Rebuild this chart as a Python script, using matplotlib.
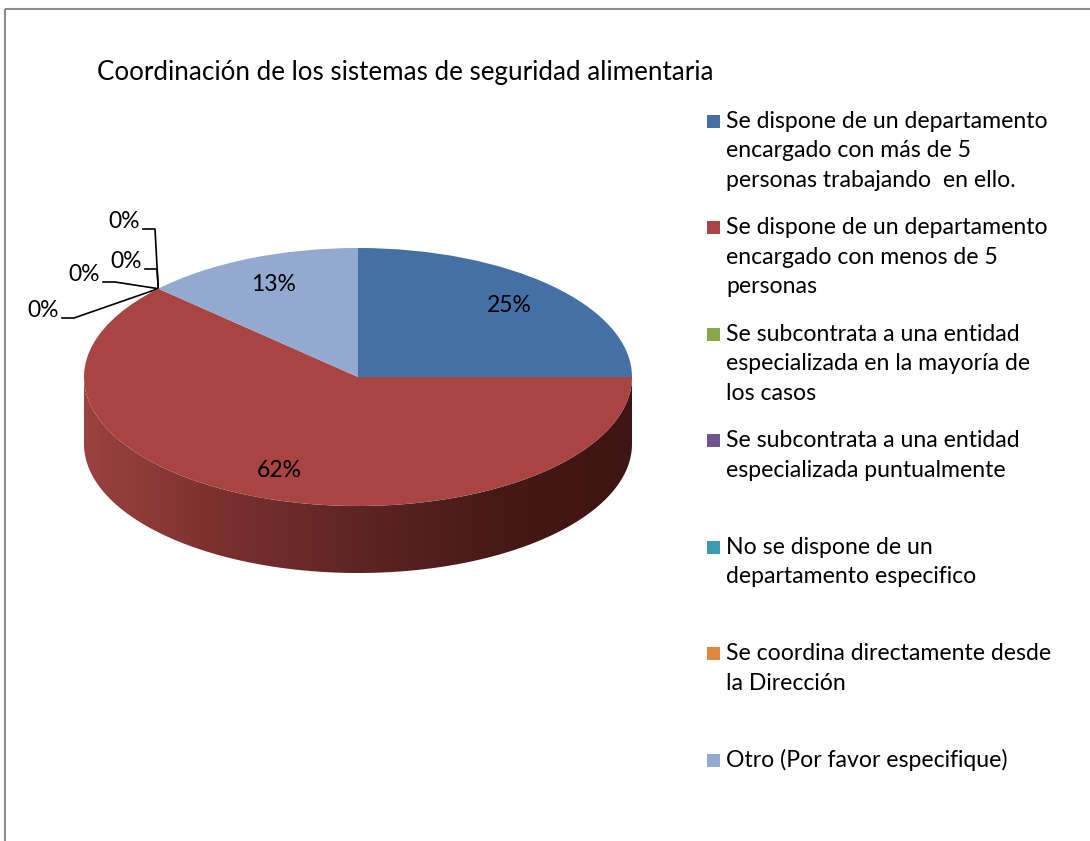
import numpy as np
import matplotlib.pyplot as plt
from matplotlib.colors import LinearSegmentedColormap
from matplotlib.patches import Rectangle, Polygon

plt.rcParams['font.family'] = ['Lato', 'DejaVu Sans']

# Data
title = "Coordinación de los sistemas de seguridad alimentaria"
categories = [
    "Se dispone de un departamento\nencargado con más de 5\npersonas trabajando  en ello.",
    "Se dispone de un departamento\nencargado con menos de 5\npersonas",
    "Se subcontrata a una entidad\nespecializada en la mayoría de\nlos casos",
    "Se subcontrata a una entidad\nespecializada puntualmente",
    "No se dispone de un\ndepartamento especifico",
    "Se coordina directamente desde\nla Dirección",
    "Otro (Por favor especifique)",
]
values = [25, 62, 0, 0, 0, 0, 13]
colors = ["#4470A5", "#A84442", "#86A84A", "#6E5590", "#3D9AB0", "#E0883E", "#93A9D0"]

W, H = 1090, 841
fig = plt.figure(figsize=(W / 100, H / 100), dpi=100)

# overlay axes in pixel coordinates (y downwards)
ov = fig.add_axes([0, 0, 1, 1])
ov.set_xlim(0, W)
ov.set_ylim(H, 0)
ov.axis('off')

# chart border
ov.add_patch(Rectangle((4.5, 8.5), W, H, fill=False, edgecolor='#8c8c8c', lw=1.5))

ov.text(97, 72, title, fontsize=18.7, ha='left', va='center', color='black')

# pie geometry (pixels)
cx, cy, a, b, depth = 358, 377, 274, 129, 67
d = depth / b
ax = fig.add_axes([(cx - a) / W, 1 - (cy + b + depth) / H, 2 * a / W, (2 * b + depth) / H])

# side wall with shading gradient
t = np.linspace(np.pi, 2 * np.pi, 200)
side = np.concatenate([np.column_stack([np.cos(t), np.sin(t)]),
                       np.column_stack([np.cos(t[::-1]), np.sin(t[::-1]) - d])])
poly = Polygon(side, closed=True, facecolor='none', edgecolor='none')
ax.add_patch(poly)
cmap = LinearSegmentedColormap.from_list('side', ['#9A4240', '#7A302E', '#5E2523', '#471918', '#3E1514'])
grad = np.linspace(0, 1, 256).reshape(1, -1)
im = ax.imshow(grad, cmap=cmap, extent=(-1, 1, -1 - d, 0), aspect='auto', zorder=1)
im.set_clip_path(poly)

def pct(p):
    return f"{p:.0f}%" if p > 0.5 else ""

wedges, _, autotexts = ax.pie(values, colors=colors, startangle=90, counterclock=False,
                              radius=1, center=(0, 0), autopct=pct, pctdistance=0.78,
                              wedgeprops=dict(linewidth=0, zorder=2),
                              textprops=dict(fontsize=16.5, color='black'))
ax.set_aspect('auto')
ax.set_xlim(-1, 1)
ax.set_ylim(-1 - d, 1)
ax.axis('off')

# labels for the zero-valued slices with leader lines
zero_idx = [i for i, v in enumerate(values) if v == 0]
start = 90 - 360 * sum(values[:zero_idx[0]]) / sum(values)
ex, ey = np.cos(np.radians(start)), np.sin(np.radians(start))
px, py = ov.transData.inverted().transform(ax.transData.transform((ex, ey)))
leader_start = [(143, 229), (145, 269), (103, 282), (62, 318)]
for (lx, ly) in leader_start:
    ov.plot([lx, lx + 12, px], [ly, ly, py], color='black', lw=1.2)
    ov.text(lx - 3, ly + 3, "0%", fontsize=16.5, ha='right', va='bottom')

# legend
lx0, ly0, step, line_h = 707, 121, 106.5, 29.5
for i, (lab, col) in enumerate(zip(categories, colors)):
    y = ly0 + i * step
    ov.add_patch(Rectangle((lx0, y - 6.5), 13, 13, facecolor=col, edgecolor='none'))
    for j, line in enumerate(lab.split("\n")):
        ov.text(lx0 + 19, y + j * line_h, line, fontsize=16.6, ha='left', va='center')

fig.savefig("out.png", dpi=100)
